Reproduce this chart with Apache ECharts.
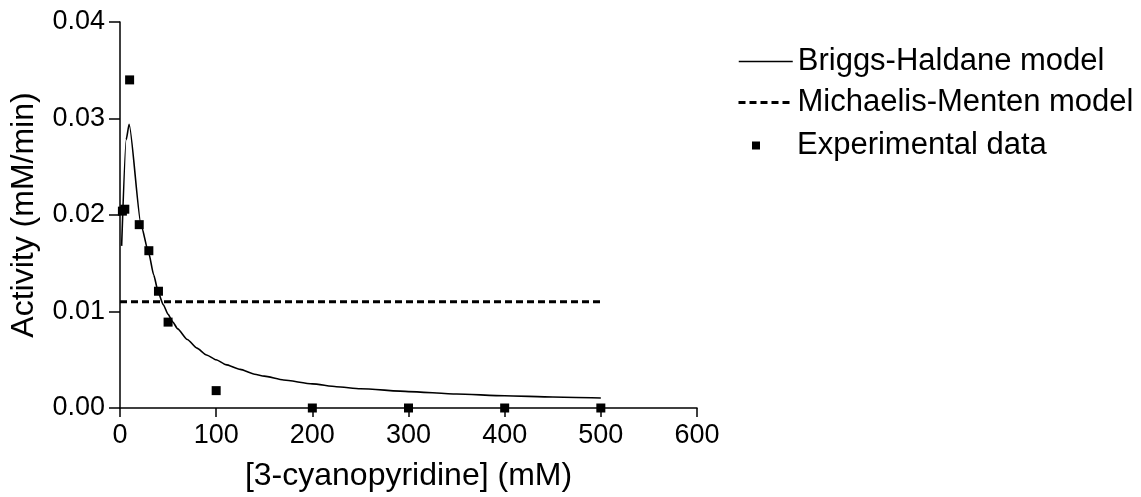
<!DOCTYPE html>
<html lang="en">
<head>
<meta charset="utf-8">
<title>Activity vs 3-cyanopyridine</title>
<script src="https://cdn.jsdelivr.net/npm/echarts/dist/echarts.min.js"></script>
<style>
  html, body { margin: 0; padding: 0; background: #fff; }
  #main { width: 1141px; height: 497px; }
</style>
</head>
<body>
<div id="main"></div>
<script type="text/javascript">

    // x ticks (mM) and y ticks (mM/min)
    var xTicks = [0, 100, 200, 300, 400, 500, 600];
    var yTicks = [0.00, 0.01, 0.02, 0.03, 0.04];

    var expX = [2.5, 5, 10, 20, 30, 40, 50, 100, 200, 300, 400, 500];
    var expY = [0.0204, 0.0206, 0.0340, 0.0190, 0.0163, 0.0121, 0.0089, 0.0018, 0, 0, 0, 0];

    // fitted Briggs-Haldane curve
    var bhX = [1.7, 6.4, 9.5, 22, 30, 35, 40, 45, 50, 55, 60, 70, 80, 90, 100, 110, 125, 140, 150, 170, 200, 225, 250, 300, 350, 400, 450, 500];
    var bhY = [0.0168, 0.0278, 0.0294, 0.0189, 0.0160, 0.0138, 0.0119, 0.0107, 0.0097, 0.0089, 0.0082, 0.0071, 0.0062, 0.0055, 0.0050, 0.0045, 0.0040, 0.0035, 0.0033, 0.0029, 0.0025, 0.0022, 0.0020, 0.0017, 0.00145, 0.00127, 0.00114, 0.00103];

    // Michaelis-Menten fit is flat
    var mmX = [0, 500];
    var mmY = [0.0110, 0.0110];

    function pairs(xs, ys) {
        var out = [];
        for (var i = 0; i < xs.length; i++) out.push([xs[i], ys[i]]);
        return out;
    }

    var font = 'Liberation Sans, Arial, sans-serif';
    var myChart = echarts.init(document.getElementById('main'));

    var legendText = { fontFamily: font, fontSize: 31, color: '#000' };

    var option = {
        animation: false,
        backgroundColor: '#fff',
        textStyle: { fontFamily: font, color: '#000' },
        grid: { left: 120, right: 444, top: 22, bottom: 87 },
        legend: [
            {
                data: ['Briggs-Haldane model'],
                left: 738, top: 46, padding: 0,
                itemWidth: 54, itemHeight: 14,
                itemStyle: { opacity: 0 },
                lineStyle: { width: 1.5, opacity: 1 },
                textStyle: legendText
            },
            {
                data: ['Michaelis-Menten model'],
                left: 737, top: 87, padding: 0,
                itemWidth: 54, itemHeight: 14,
                itemStyle: { opacity: 0 },
                lineStyle: { width: 3, opacity: 1 },
                textStyle: legendText
            },
            {
                data: ['Experimental data'],
                left: 752, top: 130, padding: 0,
                itemWidth: 8, itemHeight: 8,
                itemStyle: { opacity: 1 },
                textStyle: { fontFamily: font, fontSize: 31, color: '#000', padding: [0, 0, 0, 32] }
            }
        ],
        xAxis: {
            type: 'value',
            min: xTicks[0], max: xTicks[xTicks.length - 1], interval: 100,
            name: '[3-cyanopyridine] (mM)',
            nameLocation: 'middle', nameGap: 52,
            nameTextStyle: { fontFamily: font, fontSize: 32, color: '#000' },
            axisLine: { lineStyle: { color: '#000', width: 1.5 } },
            axisTick: { length: 9, lineStyle: { color: '#000', width: 1.5 } },
            axisLabel: { fontFamily: font, fontSize: 27, color: '#000', margin: 14 },
            splitLine: { show: false }
        },
        yAxis: {
            type: 'value',
            min: yTicks[0], max: yTicks[yTicks.length - 1], interval: 0.01,
            name: 'Activity (mM/min)',
            nameLocation: 'middle', nameGap: 80,
            nameTextStyle: { fontFamily: font, fontSize: 32, color: '#000' },
            axisLine: { show: true, lineStyle: { color: '#000', width: 1.5 } },
            axisTick: { show: true, length: 11, lineStyle: { color: '#000', width: 1.5 } },
            axisLabel: {
                fontFamily: font, fontSize: 27, color: '#000', margin: 15,
                formatter: function (v) { return v.toFixed(2); }
            },
            splitLine: { show: false }
        },
        series: [
            {
                name: 'Briggs-Haldane model',
                type: 'line',
                symbol: 'none',
                smooth: 0.2,
                smoothMonotone: 'x',
                data: pairs(bhX, bhY),
                lineStyle: { color: '#000', width: 1.6 },
                itemStyle: { color: '#000' },
                z: 3
            },
            {
                name: 'Michaelis-Menten model',
                type: 'line',
                symbol: 'none',
                data: pairs(mmX, mmY),
                lineStyle: { color: '#000', width: 3, type: [7, 4] },
                itemStyle: { color: '#000' },
                z: 3
            },
            {
                name: 'Experimental data',
                type: 'scatter',
                symbol: 'rect',
                symbolSize: 9,
                clip: false,
                data: pairs(expX, expY),
                itemStyle: { color: '#000', opacity: 1 },
                z: 4
            }
        ]
    };

    myChart.setOption(option);
</script>
</body>
</html>
